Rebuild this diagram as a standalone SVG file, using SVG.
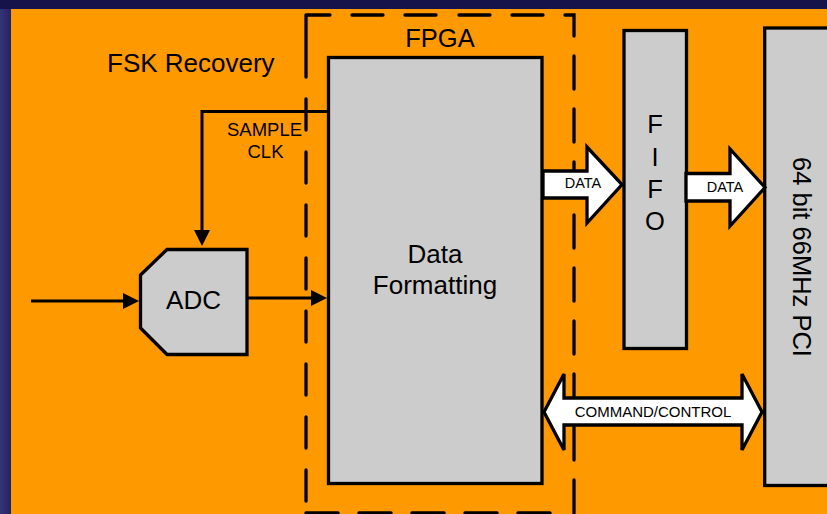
<svg xmlns="http://www.w3.org/2000/svg" width="827" height="514" viewBox="0 0 827 514">
  <defs>
    <linearGradient id="bgL" x1="0" y1="0" x2="1" y2="0">
      <stop offset="0" stop-color="#34347a"/>
      <stop offset="1" stop-color="#242260"/>
    </linearGradient>
    <marker id="ah" viewBox="0 0 16 16" refX="8" refY="8" markerWidth="16" markerHeight="16" markerUnits="userSpaceOnUse" orient="auto">
      <path d="M0,0 L16,8 L0,16 z" fill="#000"/>
    </marker>
  </defs>
  <style>
    .t { font-family: "Liberation Sans", Arial, sans-serif; fill: #000; }
    .box { fill: #cccccc; stroke: #000; stroke-width: 3.3; }
    .dash { fill: none; stroke: #000; stroke-width: 3.3; stroke-linecap: round; }
    .wire { fill: none; stroke: #000; stroke-width: 3; }
    .block { fill: #fff; stroke: #000; stroke-width: 3.3; stroke-linejoin: miter; }
  </style>
  <rect x="0" y="0" width="827" height="514" fill="#16134a"/>
  <rect x="0" y="9" width="11" height="505" fill="url(#bgL)"/>
  <rect x="11" y="9" width="816" height="505" fill="#ff9900"/>

  <text class="t" x="107" y="72" font-size="26">FSK Recovery</text>

  <g id="fpga">
    <path class="dash" d="M306,15 H330 M352,15 H383 M405,15 H436 M459,15 H490 M512,15 H543 M565,15 H574 V36
      M574,56 V89 M574,109 V142 M574,162 V195 M574,215 V248 M574,268 V301 M574,321 V354 M574,374 V407 M574,427 V460 M574,480 V513
      M306,15 V77 M306,99 V130 M306,152 V183 M306,205 V236 M306,258 V289 M306,311 V342 M306,364 V395 M306,417 V448 M306,470 V501
      M306,513 H338 M359,513 H391 M412,513 H444 M465,513 H497 M518,513 H550"/>
    <text class="t" x="440" y="47" font-size="25.5" text-anchor="middle">FPGA</text>
  </g>

  <g id="data-formatting">
    <rect class="box" x="328.5" y="57.5" width="213.5" height="426"/>
    <text class="t" x="435" y="263" font-size="26" text-anchor="middle">Data</text>
    <text class="t" x="435" y="293.5" font-size="26" text-anchor="middle">Formatting</text>
  </g>

  <g id="adc">
    <path class="box" d="M167,249.5 H247 V354.5 H167 L140.5,328 V275 Z"/>
    <text class="t" x="193.5" y="309" font-size="26" text-anchor="middle">ADC</text>
  </g>

  <g id="fifo">
    <rect class="box" x="624" y="30.5" width="62.5" height="318"/>
    <text class="t" x="655" y="133" font-size="25.5" text-anchor="middle">F</text>
    <text class="t" x="655" y="165.5" font-size="25.5" text-anchor="middle">I</text>
    <text class="t" x="655" y="198" font-size="25.5" text-anchor="middle">F</text>
    <text class="t" x="655" y="230" font-size="25.5" text-anchor="middle">O</text>
  </g>

  <g id="pci">
    <rect class="box" x="764.7" y="28" width="100" height="457.5"/>
    <text class="t" transform="translate(793,257) rotate(90)" x="0" y="0" font-size="25.5" text-anchor="middle">64 bit 66MHz PCI</text>
  </g>

  <g id="connectors">
    <line class="wire" x1="31" y1="301" x2="131" y2="301" marker-end="url(#ah)"/>
    <line class="wire" x1="248" y1="298" x2="319" y2="298" marker-end="url(#ah)"/>
    <path class="wire" d="M328,111.5 H202 V238" marker-end="url(#ah)"/>
    <text class="t" x="264.5" y="136" font-size="18.5" text-anchor="middle">SAMPLE</text>
    <text class="t" x="265.5" y="158" font-size="18.5" text-anchor="middle">CLK</text>

    <polygon class="block" points="543,171 587,171 587,147 622,184.5 587,223 587,198 543,198"/>
    <text class="t" x="583" y="188" font-size="14.5" text-anchor="middle">DATA</text>

    <polygon class="block" points="686,173.5 730,173.5 730,149 765,187.5 730,226 730,201 686,201"/>
    <text class="t" x="725" y="192" font-size="14.5" text-anchor="middle">DATA</text>

    <polygon class="block" points="544,412 564,374 564,398 742,398 742,374 762,412 742,450 742,425 564,425 564,450"/>
    <text class="t" x="653" y="417" font-size="15" text-anchor="middle">COMMAND/CONTROL</text>
  </g>
</svg>
